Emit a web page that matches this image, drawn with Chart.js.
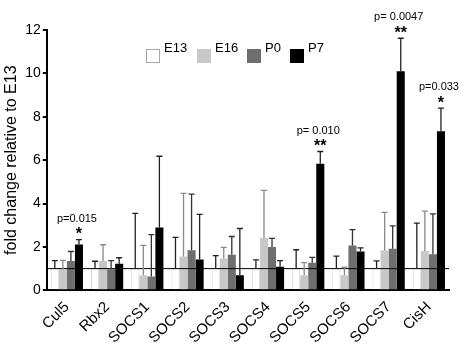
<!DOCTYPE html>
<html>
<head>
<meta charset="utf-8">
<script src="https://cdn.jsdelivr.net/npm/chart.js@4.4.0/dist/chart.umd.min.js"></script>
<style>
  html, body { margin: 0; padding: 0; background: #fff; }
  #wrap { width: 465px; height: 345px; }
</style>
</head>
<body>
<div id="wrap"><canvas id="bar-chart" width="465" height="345"></canvas></div>
<script>
var genes = ['Cul5', 'Rbx2', 'SOCS1', 'SOCS2', 'SOCS3', 'SOCS4', 'SOCS5', 'SOCS6', 'SOCS7', 'CisH'];
var stages = ['E13', 'E16', 'P0', 'P7'];

// mean fold change
var valE13 = [1, 1, 1, 1, 1, 1, 1, 1, 1, 1];
var valE16 = [0.97, 1.35, 0.7, 1.56, 1.47, 2.41, 0.69, 0.7, 1.84, 1.81];
var valP0 = [1.35, 0.97, 0.64, 1.85, 1.64, 2.0, 1.27, 2.07, 1.92, 1.66];
var valP7 = [2.11, 1.23, 2.9, 1.42, 0.7, 1.09, 5.84, 1.79, 10.1, 7.33];

// top of error bar
var errE13 = [1.37, 1.34, 3.55, 2.44, 1.6, 1.4, 1.87, 1.58, 1.36, 3.1];
var errE16 = [1.38, 2.1, 2.07, 4.47, 1.98, 4.61, 1.28, 1.07, 3.59, 3.65];
var errP0 = [1.79, 1.37, 2.57, 4.43, 2.48, 2.39, 1.52, 2.8, 2.97, 3.52];
var errP7 = [2.34, 1.5, 6.18, 3.5, 2.85, 1.37, 6.4, 1.96, 11.62, 8.4];

var sigGenes = ['Cul5', 'SOCS5', 'SOCS7', 'CisH'];
var sigP = ['p=0.015', 'p= 0.010', 'p= 0.0047', 'p=0.033'];
var sigStars = ['*', '**', '**', '*'];

var fillColors = ['#ffffff', '#c8c8c8', '#6e6e6e', '#000000'];
var edgeColors = ['#d8d8d8', '#c8c8c8', '#6e6e6e', '#000000'];
var errColors = ['#222222', '#8a8a8a', '#333333', '#222222'];

var font = '"Liberation Sans", Arial, sans-serif';

var extraPlugin = {
    id: 'extras',
    afterDatasetsDraw: function (chart) {
        var ctx = chart.ctx;
        var y = chart.scales.y;
        var area = chart.chartArea;
        ctx.save();

        // baseline at fold change 1
        var y1 = y.getPixelForValue(1);
        ctx.strokeStyle = '#000';
        ctx.lineWidth = 1;
        ctx.beginPath();
        ctx.moveTo(area.left, y1);
        ctx.lineTo(area.right, y1);
        ctx.stroke();

        // error bars (upper only)
        chart.data.datasets.forEach(function (ds, i) {
            var meta = chart.getDatasetMeta(i);
            meta.data.forEach(function (bar, j) {
                var yTop = y.getPixelForValue(ds.errTop[j]);
                var yVal = y.getPixelForValue(ds.data[j]);
                ctx.strokeStyle = errColors[i];
                ctx.lineWidth = 1.3;
                ctx.beginPath();
                ctx.moveTo(bar.x, yVal);
                ctx.lineTo(bar.x, yTop);
                ctx.moveTo(bar.x - 3, yTop);
                ctx.lineTo(bar.x + 3, yTop);
                ctx.stroke();
            });
        });

        // significance labels over P7
        var p7 = chart.getDatasetMeta(3);
        ctx.fillStyle = '#000';
        ctx.textAlign = 'center';
        sigGenes.forEach(function (g, k) {
            var idx = genes.indexOf(g);
            var bar = p7.data[idx];
            var yTop = y.getPixelForValue(errP7[idx]);
            ctx.font = 'bold 16px ' + font;
            ctx.textBaseline = 'middle';
            ctx.fillText(sigStars[k], bar.x, yTop - 5);
            ctx.font = '11px ' + font;
            ctx.fillText(sigP[k], bar.x - 2, yTop - 21);
        });

        // legend
        var lx = [146, 197, 247, 290];
        ctx.textAlign = 'left';
        ctx.textBaseline = 'alphabetic';
        ctx.font = '13px ' + font;
        stages.forEach(function (s, i) {
            ctx.fillStyle = fillColors[i];
            ctx.fillRect(lx[i], 49, 14, 14);
            ctx.strokeStyle = i === 0 ? '#aaaaaa' : edgeColors[i];
            ctx.lineWidth = 1;
            ctx.strokeRect(lx[i] + 0.5, 49.5, 13, 13);
            ctx.fillStyle = '#000';
            ctx.fillText(s, lx[i] + 18, 52);
        });
        ctx.restore();
    }
};

var datasets = stages.map(function (s, i) {
    return {
        label: s,
        data: [valE13, valE16, valP0, valP7][i],
        errTop: [errE13, errE16, errP0, errP7][i],
        backgroundColor: fillColors[i],
        borderColor: edgeColors[i],
        borderWidth: i === 0 ? 1 : 0,
        categoryPercentage: 0.8,
        barPercentage: 1.0
    };
});

new Chart(document.getElementById('bar-chart'), {
    type: 'bar',
    data: { labels: genes, datasets: datasets },
    options: {
        responsive: false,
        animation: false,
        devicePixelRatio: 1,
        layout: { padding: { top: 30, right: 16, bottom: -2, left: 2 } },
        plugins: {
            legend: { display: false },
            tooltip: { enabled: false }
        },
        scales: {
            x: {
                grid: { display: false },
                border: { color: '#000', width: 2 },
                ticks: {
                    color: '#000',
                    font: { family: font, size: 15 },
                    minRotation: 45,
                    maxRotation: 45,
                    padding: 0
                }
            },
            y: {
                min: 0,
                max: 12,
                grid: { display: true, drawOnChartArea: false, drawTicks: true, tickLength: 4, color: '#000', lineWidth: 2 },
                border: { color: '#000', width: 2 },
                ticks: {
                    stepSize: 2,
                    color: '#000',
                    font: { family: font, size: 14 },
                    padding: 2
                },
                title: {
                    display: true,
                    text: 'fold change relative to E13',
                    color: '#000',
                    font: { family: font, size: 16 },
                    padding: { top: 0, bottom: 2 }
                }
            }
        }
    },
    plugins: [extraPlugin]
});
</script>
</body>
</html>
